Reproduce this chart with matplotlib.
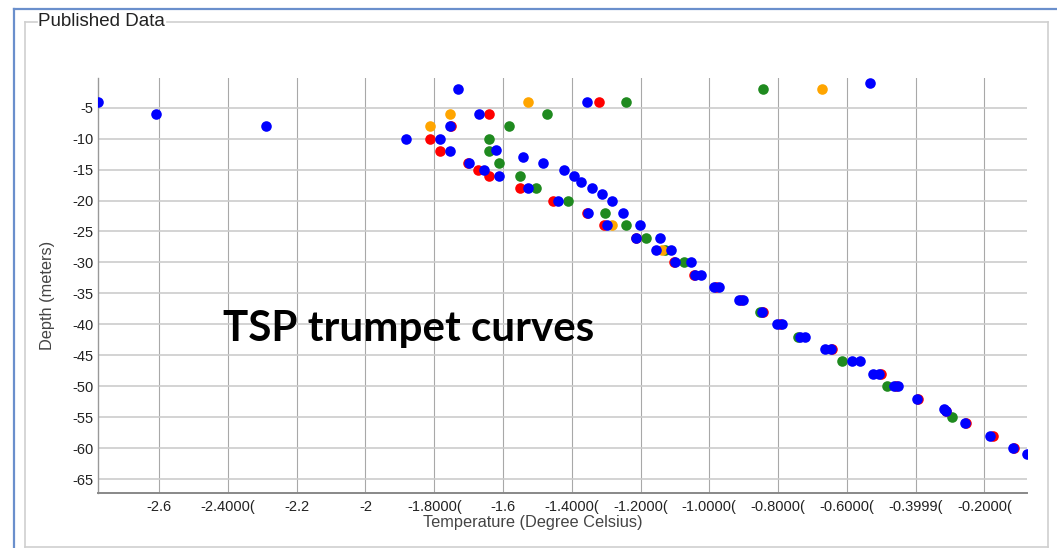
import matplotlib.pyplot as plt
from matplotlib.lines import Line2D

# published TSP borehole readings (temperature in deg C, depth in m)
blue_temp = [-2.778, -2.61, -2.29, -1.731, -1.355, -0.533, -1.669, -1.755, -1.882, -1.784,
             -1.755, -1.621, -1.542, -1.698, -1.483, -1.656, -1.423, -1.611, -1.393, -1.372,
             -1.526, -1.342, -1.312, -1.440, -1.282, -1.252, -1.353, -1.298, -1.203, -1.212,
             -1.142, -1.155, -1.112, -1.100, -1.052, -1.043, -1.023, -0.986, -0.973, -0.915,
             -0.902, -0.846, -0.803, -0.789, -0.735, -0.723, -0.663, -0.647, -0.584, -0.562,
             -0.525, -0.506, -0.464, -0.452, -0.395, -0.316, -0.313, -0.256, -0.185, -0.116,
             -0.076]
blue_depth = [-4, -6, -8, -2, -4, -1, -6, -8, -10, -10,
              -12, -11.8, -13, -14, -14, -15, -15, -16, -16, -17,
              -18, -18, -19, -20, -20, -22, -22, -24, -24, -26,
              -26, -28, -28, -30, -30, -32, -32, -34, -34, -36,
              -36, -38, -40, -40, -42, -42, -44, -44, -46, -46,
              -48, -48, -50, -50, -52, -53.7, -54, -56, -58, -60,
              -61]

red_temp = [-1.322, -1.642, -1.752, -1.813, -1.782, -1.702, -1.673, -1.642, -1.552, -1.455,
            -1.355, -1.305, -1.214, -1.102, -1.045, -0.980, -0.908, -0.843, -0.795, -0.644,
            -0.502, -0.458, -0.392, -0.312, -0.253, -0.174, -0.113]
red_depth = [-4, -6, -8, -10, -12, -14, -15, -16, -18, -20,
             -22, -24, -26, -30, -32, -34, -36, -38, -40, -44,
             -48, -50, -52, -54, -56, -58, -60]

green_temp = [-0.844, -1.242, -1.471, -1.582, -1.642, -1.642, -1.611, -1.552, -1.503, -1.411,
              -1.302, -1.242, -1.183, -1.130, -1.073, -0.853, -0.742, -0.614, -0.484, -0.293]
green_depth = [-2, -4, -6, -8, -10, -12, -14, -16, -18, -20,
               -22, -24, -26, -28, -30, -38, -42, -46, -50, -55]

orange_temp = [-0.672, -1.526, -1.755, -1.813, -1.283, -1.137]
orange_depth = [-2, -4, -6, -8, -24, -28]

x_ticks = [-2.6, -2.4, -2.2, -2.0, -1.8, -1.6, -1.4, -1.2, -1.0, -0.8, -0.6, -0.4, -0.2]
x_labels = ["-2.6", "-2.4000(", "-2.2", "-2", "-1.8000(", "-1.6", "-1.4000(", "-1.2000(",
            "-1.0000(", "-0.8000(", "-0.6000(", "-0.3999(", "-0.2000("]
y_ticks = list(range(-5, -70, -5))

W, H = 1057, 548


def fx(x):
    return x / W


def fy(y):
    return 1 - y / H


fig = plt.figure(figsize=(W / 100, H / 100), dpi=100)
plt.rcParams['font.family'] = ['Liberation Sans', 'DejaVu Sans']

ax = fig.add_axes([fx(98), fy(492.7), fx(1027) - fx(98), fy(78.3) - fy(492.7)])

for t, d, c in [(green_temp, green_depth, '#1f8a1f'),
                (red_temp, red_depth, '#ff0000'),
                (orange_temp, orange_depth, '#ffa500'),
                (blue_temp, blue_depth, '#0000ff')]:
    ax.scatter(t, d, s=58, color=c, linewidths=0, zorder=3)

ax.set_xlim(-2.778, -0.076)
ax.set_ylim(-67.2, -0.25)
ax.set_xticks(x_ticks)
ax.set_xticklabels(x_labels)
ax.set_yticks(y_ticks)
ax.set_yticklabels([str(v) for v in y_ticks])
ax.tick_params(length=0, labelsize=10.5, colors='#222222')
ax.tick_params(axis='x', pad=5.5)
ax.tick_params(axis='y', pad=3)
ax.grid(axis='y', color='#cccccc', linewidth=1.2, zorder=0)
ax.grid(axis='x', color='#a8a8a8', linewidth=0.8, zorder=0)
ax.set_axisbelow(True)
for s in ['top', 'right']:
    ax.spines[s].set_visible(False)
ax.spines['bottom'].set_color('#888888')
ax.spines['bottom'].set_linewidth(1.4)
ax.spines['left'].set_color('#999999')
ax.spines['left'].set_linewidth(1.0)

fig.text(fx(47.3), fy(295), "Depth (meters)", rotation=90, ha='center', va='center',
         fontsize=11.8, color='#444444')
fig.text(fx(533), fy(523), "Temperature (Degree Celsius)", ha='center', va='center',
         fontsize=11.8, color='#444444')
fig.text(fx(223), fy(340.5), "TSP trumpet curves", ha='left', va='baseline',
         fontsize=30.3, fontweight='bold', family=['Lato', 'DejaVu Sans'], color='black')

# outer blue frame and the grey "Published Data" box
blue = '#6a8fcc'
fig.add_artist(Line2D([fx(13.5), fx(13.5)], [fy(9.3), fy(548)], color=blue, lw=1.6))
fig.add_artist(Line2D([fx(13.5), fx(1057)], [fy(9.3), fy(9.3)], color=blue, lw=1.6))
grey = '#cfcfcf'
fig.add_artist(Line2D([fx(24.7), fx(24.7)], [fy(22.3), fy(546.7)], color=grey, lw=1.2))
fig.add_artist(Line2D([fx(1048.3), fx(1048.3)], [fy(22.3), fy(546.7)], color=grey, lw=1.2))
fig.add_artist(Line2D([fx(24.7), fx(1048.3)], [fy(546.7), fy(546.7)], color=grey, lw=1.2))
fig.add_artist(Line2D([fx(24.7), fx(37)], [fy(22.3), fy(22.3)], color=grey, lw=1.2))
fig.add_artist(Line2D([fx(167), fx(1048.3)], [fy(22.3), fy(22.3)], color=grey, lw=1.2))
fig.text(fx(38.5), fy(21.5), "Published Data", ha='left', va='center', fontsize=13.5,
         color='#222222')

fig.savefig("out.png", dpi=100)
